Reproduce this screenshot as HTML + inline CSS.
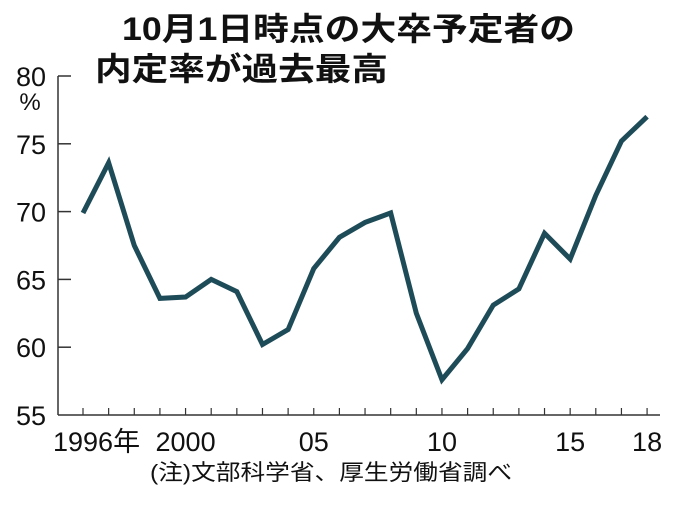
<!DOCTYPE html>
<html><head><meta charset="utf-8"><style>
body{margin:0;background:#fff;}
svg text{font-family:"Liberation Sans","Noto Sans CJK JP",sans-serif;fill:#111;}
</style></head><body>
<svg width="680" height="504">
<text x="122" y="40" font-size="32" font-weight="bold" textLength="453" lengthAdjust="spacingAndGlyphs">10月1日時点の大卒予定者の</text>
<text x="95" y="80" font-size="32" font-weight="bold" textLength="293" lengthAdjust="spacingAndGlyphs">内定率が過去最高</text>
<g id="axes"></g>
<path id="line" fill="none" stroke="#1e4b58" stroke-width="5" stroke-linejoin="miter"/>
<text x="150" y="480" font-size="22" textLength="362" lengthAdjust="spacingAndGlyphs">(注)文部科学省、厚生労働省調べ</text>
</svg>
<script>
const years=[1996,1997,1998,1999,2000,2001,2002,2003,2004,2005,2006,2007,2008,2009,2010,2011,2012,2013,2014,2015,2016,2017,2018];
const rates=[69.9,73.6,67.5,63.6,63.7,65.0,64.1,60.2,61.3,65.8,68.1,69.2,69.9,62.5,57.6,59.9,63.1,64.3,68.4,66.5,71.2,75.2,77.0];
const yTicks=[55,60,65,70,75,80];
const xLabelYears=[1996,2000,2005,2010,2015,2018];
const xLabels=["1996年","2000","05","10","15","18"];
const NS="http://www.w3.org/2000/svg";
const x=v=>83+(v-1996)*25.64;
const y=v=>415-(v-55)*13.56;
const ax=document.getElementById('axes');
function mk(t,a){const e=document.createElementNS(NS,t);for(const k in a)e.setAttribute(k,a[k]);ax.appendChild(e);return e;}
let e=mk('line',{x1:58,y1:76,x2:58,y2:415,stroke:'#333','stroke-width':1.5});


e=mk('line',{x1:58,y1:415,x2:660,y2:415,stroke:'#333','stroke-width':1.5});


yTicks.forEach(v=>{
 if(v>55){const t=mk('line',{x1:58,y1:y(v),x2:71,y2:y(v),stroke:'#333','stroke-width':1.5});
 
 }
 const l=mk('text',{x:46,y:y(v)+10,'font-size':27,'text-anchor':'end'});l.textContent=v;
 
 
});
const pc=mk('text',{x:30,y:y(80)+34,'font-size':24,'text-anchor':'middle'});pc.textContent='%';


years.forEach(v=>{const t=mk('line',{x1:x(v),y1:415,x2:x(v),y2:408,stroke:'#333','stroke-width':1.2});
 
 });
xLabelYears.forEach((v,i)=>{const l=mk('text',{x:i==0?x(v)-30:x(v),y:451,'font-size':27,'text-anchor':i==0?'start':'middle'});l.textContent=xLabels[i];
 
 });
document.getElementById('line').setAttribute('d',years.map((v,i)=>(i?'L':'M')+x(v)+','+y(rates[i])).join(''));
</script>
</body></html>
